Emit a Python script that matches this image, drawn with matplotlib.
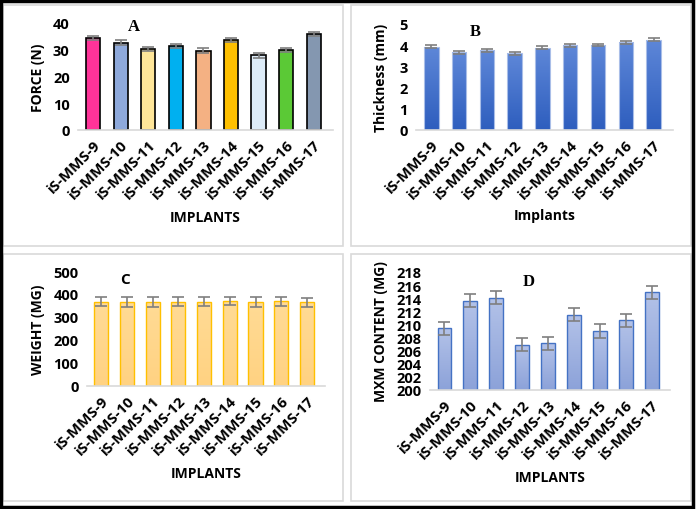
import numpy as np
import matplotlib.pyplot as plt
from matplotlib.patches import Rectangle
from matplotlib.colors import LinearSegmentedColormap

# Данные
implants = ["iS-MMS-9", "iS-MMS-10", "iS-MMS-11", "iS-MMS-12", "iS-MMS-13",
            "iS-MMS-14", "iS-MMS-15", "iS-MMS-16", "iS-MMS-17"]

force = [34.4, 32.7, 30.3, 31.4, 29.7, 33.7, 27.9, 29.8, 35.8]
force_err = [0.8, 0.8, 0.8, 0.8, 0.8, 0.8, 0.8, 0.8, 0.8]
force_colors = ["#FF3399", "#8EA9DB", "#FFE699", "#00B0F0", "#F4B183",
                "#FFC000", "#DDEBF7", "#5BC936", "#8497B0"]

thickness = [3.93, 3.66, 3.77, 3.62, 3.88, 3.99, 4.01, 4.13, 4.26]
thickness_err = [0.07, 0.06, 0.07, 0.06, 0.07, 0.08, 0.07, 0.07, 0.07]

weight = [367, 365, 365, 367, 366, 370, 365, 368, 364]
weight_err = [20, 21, 21, 19, 20, 19, 20, 20, 19]

mxm = [209.4, 213.6, 214.1, 206.9, 207.15, 211.5, 209.0, 210.65, 214.9]
mxm_err = [1.0, 1.0, 1.0, 1.0, 1.0, 1.0, 1.0, 1.0, 1.0]
mxm_base = 200

plt.rcParams["font.family"] = ["Open Sans", "DejaVu Sans"]
plt.rcParams["font.weight"] = "bold"

W, H = 696, 510
fig = plt.figure(figsize=(W / 100, H / 100), dpi=100)


def px_axes(l, t, r, b):
    return fig.add_axes([l / W, 1 - b / H, (r - l) / W, (b - t) / H])


# рамки панелей
for (l, t, r, b) in [(3, 6, 343, 247), (351, 6, 691, 247), (3, 255, 343, 502), (351, 255, 691, 502)]:
    fig.add_artist(Rectangle((l / W, 1 - b / H), (r - l) / W, (b - t) / H,
                             transform=fig.transFigure, fill=False, ec="#D9D9D9", lw=1.2))
fig.add_artist(Rectangle((0.002, 0.004), 0.994, 0.993, transform=fig.transFigure,
                         fill=False, ec="black", lw=2.5))


def gradient_bars(ax, bars, top, bottom):
    grad = np.linspace(0, 1, 100).reshape(-1, 1)
    cmap = LinearSegmentedColormap.from_list("g", [bottom, top])
    for bar in bars:
        x, y = bar.get_x(), bar.get_y()
        w, h = bar.get_width(), bar.get_height()
        im = ax.imshow(grad, extent=[x, x + w, y, y + h], origin="lower", cmap=cmap,
                       aspect="auto", zorder=bar.get_zorder() - 0.1)
        im.set_clip_path(bar)


def style(ax, ylabel, xlabel, lab_x, xl_y, ylim, step):
    ax.set_xlim(-0.55, 8.7)
    ax.set_ylim(*ylim)
    ax.set_yticks(np.arange(ylim[0], ylim[1] + step / 2, step))
    ax.set_xticks(range(len(implants)))
    ax.set_xticklabels(implants, rotation=45, ha="right", rotation_mode="anchor",
                       fontsize=10.8, fontweight="bold")
    for lbl in ax.get_yticklabels():
        lbl.set_fontweight("bold")
        lbl.set_fontsize(10.5)
    ax.tick_params(axis="y", length=0, pad=6)
    ax.tick_params(axis="x", length=0, pad=5)
    for s in ["top", "right", "left"]:
        ax.spines[s].set_visible(False)
    ax.spines["bottom"].set_color("#D9D9D9")
    ax.spines["bottom"].set_linewidth(1.2)
    ax.set_ylabel(ylabel, fontsize=10, fontweight="bold")
    ax.set_xlabel(xlabel, fontsize=10, fontweight="bold")
    ax.yaxis.set_label_coords(lab_x, 0.5)
    ax.xaxis.set_label_coords(0.5, xl_y)
    ax.set_autoscale_on(False)


x = np.arange(len(implants))
ekw = dict(ecolor="#7F7F7F", elinewidth=1.2, capsize=4, capthick=1.2)

# A
ax = px_axes(78, 24, 333, 131)
ax.bar(x, force, 0.52, color=force_colors, edgecolor="black", linewidth=1.2,
       yerr=force_err, error_kw=ekw)
style(ax, "FORCE (N)", "IMPLANTS", -0.129, -0.75, (0, 40), 10)
ax.text(0.22, 0.97, "A", transform=ax.transAxes, fontsize=12, fontweight="bold",
        family="Liberation Serif", ha="center", va="center")

# B
ax = px_axes(416, 25, 673, 131)
bars = ax.bar(x, thickness, 0.52, color="none", edgecolor="#A9BEE8", linewidth=0.8,
              yerr=thickness_err, error_kw=ekw)
gradient_bars(ax, bars, "#5E87D8", "#2E5EBE")
style(ax, "Thickness (mm)", "Implants", -0.109, -0.736, (0, 5), 1)
ax.text(0.23, 0.93, "B", transform=ax.transAxes, fontsize=12, fontweight="bold",
        family="Liberation Serif", ha="center", va="center")

# C
ax = px_axes(87, 272, 325, 387)
bars = ax.bar(x, weight, 0.55, color="none", edgecolor="#FFC000", linewidth=1.0,
              yerr=weight_err, error_kw=ekw)
gradient_bars(ax, bars, "#FFDB95", "#FFD282")
style(ax, "WEIGHT (MG)", "IMPLANTS", -0.176, -0.696, (0, 500), 100)
ax.text(0.16, 0.93, "C", transform=ax.transAxes, fontsize=11, fontweight="bold",
        ha="center", va="center")

# D
ax = px_axes(430, 273, 670, 391)
bars = ax.bar(x, np.array(mxm) - mxm_base, 0.52, bottom=mxm_base, color="none",
              edgecolor="#4472C4", linewidth=1.0, yerr=mxm_err, error_kw=ekw)
gradient_bars(ax, bars, "#B3C2E8", "#8CA2D9")
style(ax, "MXM CONTENT (MG)", "IMPLANTS", -0.175, -0.678, (200, 218), 2)
ax.text(0.41, 0.92, "D", transform=ax.transAxes, fontsize=12, fontweight="bold",
        family="Liberation Serif", ha="center", va="center")

fig.savefig("out.png", dpi=100)
